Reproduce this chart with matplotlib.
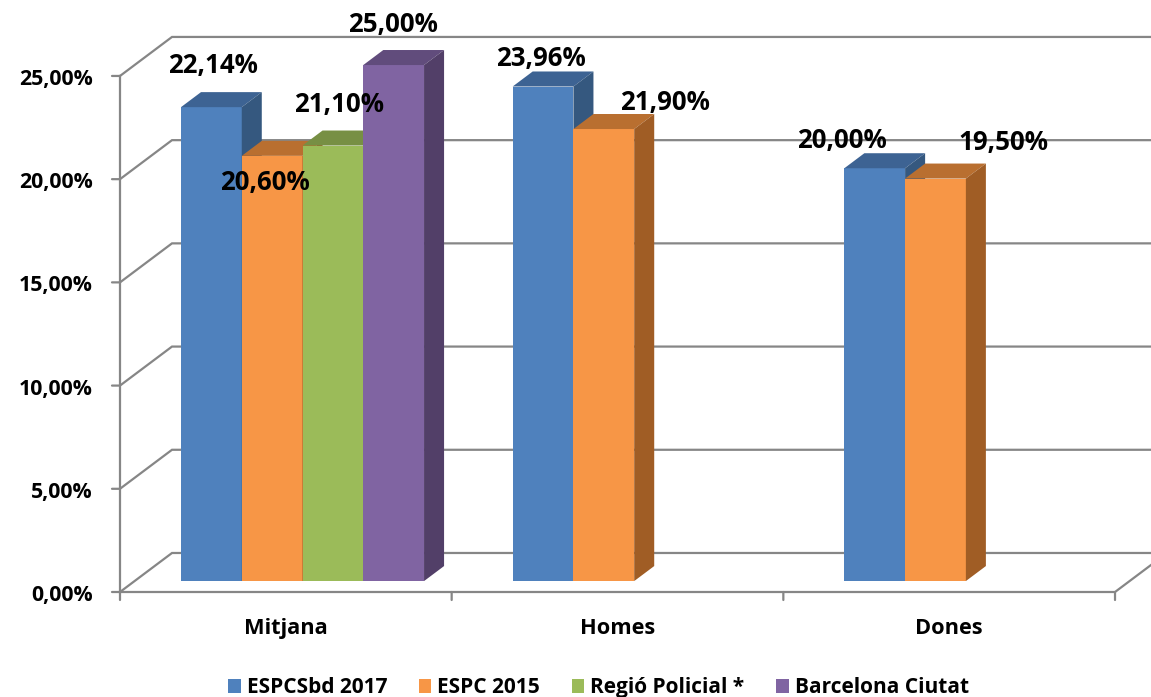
import matplotlib.pyplot as plt
from matplotlib.patches import Polygon, Patch

plt.rcParams['font.family'] = ['Open Sans', 'DejaVu Sans']
plt.rcParams['font.weight'] = 'bold'

# Chart data
categories = ['Mitjana', 'Homes', 'Dones']
series_names = ['ESPCSbd 2017', 'ESPC 2015', 'Regió Policial *', 'Barcelona Ciutat']
espcsbd_2017 = [22.96, 23.96, 20.00]
espc_2015 = [20.60, 21.90, 19.50]
regio_policial = [21.10, None, None]
barcelona_ciutat = [25.00, None, None]
espcsbd_labels = ['22,14%', '23,96%', '20,00%']
espc_labels = ['20,60%', '21,90%', '19,50%']
regio_labels = ['21,10%', '', '']
barcelona_labels = ['25,00%', '', '']
y_ticks = [0, 5, 10, 15, 20, 25]

all_values = [espcsbd_2017, espc_2015, regio_policial, barcelona_ciutat]
all_labels = [espcsbd_labels, espc_labels, regio_labels, barcelona_labels]

# Styling
front_cols = ['#4F81BD', '#F79646', '#9BBB59', '#8064A2']
top_cols = ['#3D6393', '#B96F30', '#778F44', '#614C7C']
side_cols = ['#35587F', '#A05D25', '#667D39', '#523F68']
grid_col = '#868686'

# label nudges (pixels) from the top-front centre of each bar
label_offsets = [
    [(2, 34), (-2, 21), (-33, 20)],
    [(-7, -34), (61, 19), (68, 29)],
    [(6, 34), None, None],
    [(-1, 33), None, None],
]

# pseudo-3D geometry (data units)
DX, DY = 0.1568, 1.89          # full depth of the floor
BAR_W = 0.1832
BAR_Z0, BAR_Z1 = 0.28, 0.665   # bar front/back depth fraction
GROUP_START = 0.14

fig = plt.figure(figsize=(11.51, 6.97), dpi=100)
ax = fig.add_axes([0, 0, 1, 1])
ax.set_xlim(-0.3618, 3.1085)
ax.set_ylim(-5.087, 28.68)
ax.axis('off')

# walls, floor and gridlines
lw = 1.6
for v in y_ticks:
    ax.plot([0, DX, 3 + DX], [v, v + DY, v + DY], color=grid_col, lw=lw, zorder=1,
            solid_joinstyle='miter')
ax.plot([0, 3, 3 + DX], [0, 0, DY], color=grid_col, lw=lw, zorder=1)
ax.plot([0, 0], [0, 25], color=grid_col, lw=lw, zorder=1)

for v in y_ticks:
    ax.annotate('', (0, v), xytext=(-8, 0), textcoords='offset pixels',
                arrowprops=dict(arrowstyle='-', color=grid_col, lw=lw,
                                shrinkA=0, shrinkB=0))
    ax.annotate(f'{v:.2f}%'.replace('.', ','), (0, v), xytext=(-27, -9),
                textcoords='offset pixels', ha='right', va='baseline',
                fontsize=15.3, fontweight='bold')
for i in range(4):
    ax.annotate('', (i, 0), xytext=(0, -8), textcoords='offset pixels',
                arrowprops=dict(arrowstyle='-', color=grid_col, lw=lw,
                                shrinkA=0, shrinkB=0))

for i, cat in enumerate(categories):
    ax.annotate(cat, (i + 0.5, 0), xytext=(0, -42), textcoords='offset pixels',
                ha='center', va='baseline', fontsize=15.7, fontweight='bold')

# bars, drawn left to right
z = 3
for ci in range(len(categories)):
    for si, vals in enumerate(all_values):
        v = vals[ci]
        if v is None:
            continue
        x0 = ci + GROUP_START + si * BAR_W + BAR_Z0 * DX
        x1 = x0 + BAR_W
        y0 = BAR_Z0 * DY
        y1 = y0 + v
        ddx = (BAR_Z1 - BAR_Z0) * DX
        ddy = (BAR_Z1 - BAR_Z0) * DY
        ax.add_patch(Polygon([(x0, y0), (x1, y0), (x1, y1), (x0, y1)],
                             closed=True, fc=front_cols[si], ec='none', zorder=z))
        ax.add_patch(Polygon([(x0, y1), (x1, y1), (x1 + ddx, y1 + ddy), (x0 + ddx, y1 + ddy)],
                             closed=True, fc=top_cols[si], ec='none', zorder=z))
        ax.add_patch(Polygon([(x1, y0), (x1 + ddx, y0 + ddy), (x1 + ddx, y1 + ddy), (x1, y1)],
                             closed=True, fc=side_cols[si], ec='none', zorder=z))
        z += 1
        off = label_offsets[si][ci]
        ax.annotate(all_labels[si][ci], ((x0 + x1) / 2, y1), xytext=off,
                    textcoords='offset pixels', ha='center', va='baseline',
                    fontsize=18.6, fontweight='bold', zorder=50)

handles = [Patch(facecolor=c, edgecolor='none') for c in front_cols]
fig.legend(handles, series_names, ncol=4, loc='center', bbox_to_anchor=(0.52, 0.013),
           frameon=False, handlelength=0.6, handleheight=0.66,
           handletextpad=0.28, columnspacing=1.53, borderpad=0,
           prop={'weight': 'bold', 'size': 15})

fig.savefig('out.png', dpi=100)
